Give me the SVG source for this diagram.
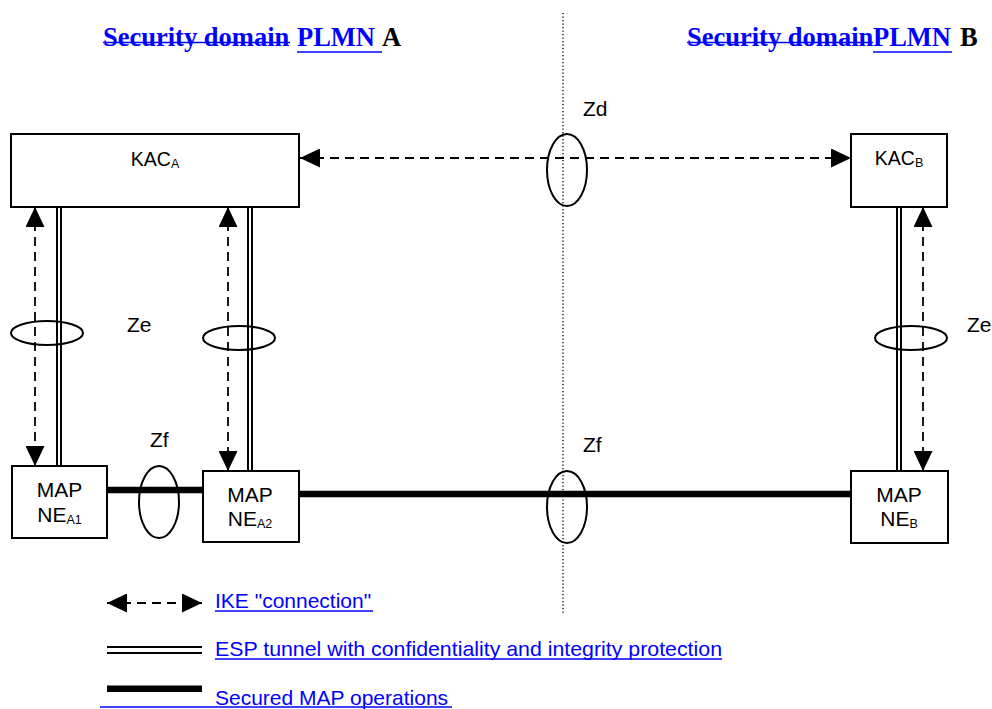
<svg xmlns="http://www.w3.org/2000/svg" width="992" height="709" viewBox="0 0 992 709">
<style>
.box{fill:#fff;stroke:#000;stroke-width:2}
.lbl{font-family:"Liberation Sans",Arial,sans-serif;font-size:21px;fill:#000}
.kac{font-family:"Liberation Sans",Arial,sans-serif;font-size:19.5px;fill:#000}
.sub{font-size:12.5px}
.hdr{font-family:"Liberation Serif","Times New Roman",serif;font-size:26.5px;font-weight:bold}
.blue{fill:#0000ff}
.leg{font-family:"Liberation Sans",Arial,sans-serif;font-size:21px;fill:#0000ff}
.bl{stroke:#0000ff;stroke-width:1.5}
.ike{stroke:#000;stroke-width:1.8;stroke-dasharray:9 6;fill:none}
.esp{stroke:#000;stroke-width:2;fill:none}
.map{stroke:#000;stroke-width:6.5;fill:none}
.ell{fill:none;stroke:#000;stroke-width:2}
.dot{stroke:#000;stroke-width:1.3;stroke-dasharray:1.3 2.2;fill:none}
</style>
<defs>
<marker id="ah" viewBox="0 0 20 19" refX="20" refY="9.5" markerWidth="20" markerHeight="19" markerUnits="userSpaceOnUse" orient="auto-start-reverse">
<path d="M0,0 L20,9.5 L0,19 z" fill="#000"/>
</marker>
</defs>
<rect width="992" height="709" fill="#fff"/>

<!-- headers -->
<g id="header-a">
<text class="hdr blue" x="103" y="45.5">Security domain</text>
<line class="bl" x1="103" y1="42.5" x2="290" y2="42.5"/>
<text class="hdr blue" x="297" y="45.5">PLMN</text>
<line class="bl" x1="297" y1="52" x2="382" y2="52"/>
<text class="hdr" x="382" y="45.5" fill="#000">A</text>
</g>
<g id="header-b">
<text class="hdr blue" x="687" y="45.5">Security domain</text>
<line class="bl" x1="687" y1="42.5" x2="873" y2="42.5"/>
<text class="hdr blue" x="873" y="45.5">PLMN</text>
<line class="bl" x1="873" y1="52" x2="952" y2="52"/>
<text class="hdr" x="960" y="45.5" fill="#000">B</text>
</g>

<!-- domain boundary -->
<line id="boundary" class="dot" x1="563" y1="13" x2="563" y2="615"/>

<!-- connectors -->
<g id="connectors">
<line class="ike" x1="300" y1="158" x2="851" y2="158" marker-start="url(#ah)" marker-end="url(#ah)"/>
<line class="ike" x1="35" y1="207" x2="35" y2="466" marker-start="url(#ah)" marker-end="url(#ah)"/>
<line class="ike" x1="228" y1="207" x2="228" y2="471" marker-start="url(#ah)" marker-end="url(#ah)"/>
<line class="ike" x1="923" y1="207" x2="923" y2="471" marker-start="url(#ah)" marker-end="url(#ah)"/>
<line class="esp" x1="57" y1="207" x2="57" y2="466"/>
<line class="esp" x1="61" y1="207" x2="61" y2="466"/>
<line class="esp" x1="248" y1="207" x2="248" y2="471"/>
<line class="esp" x1="252" y1="207" x2="252" y2="471"/>
<line class="esp" x1="897" y1="207" x2="897" y2="471"/>
<line class="esp" x1="901" y1="207" x2="901" y2="471"/>
<line class="map" x1="107" y1="490" x2="203" y2="490"/>
<line class="map" x1="299" y1="494" x2="851" y2="494"/>
</g>

<!-- nodes -->
<g id="kac-a">
<rect class="box" x="11" y="134" width="288" height="73"/>
<text class="kac" x="155" y="166" text-anchor="middle">KAC<tspan class="sub" dy="2">A</tspan></text>
</g>
<g id="kac-b">
<rect class="box" x="851" y="134" width="96" height="73"/>
<text class="kac" x="899" y="165" text-anchor="middle">KAC<tspan class="sub" dy="2">B</tspan></text>
</g>
<g id="map-ne-a1">
<rect class="box" x="12" y="466" width="95" height="72"/>
<text class="lbl" x="59.5" y="497" text-anchor="middle">MAP</text>
<text class="lbl" x="59.5" y="522" text-anchor="middle">NE<tspan class="sub" dy="1.5">A1</tspan></text>
</g>
<g id="map-ne-a2">
<rect class="box" x="203" y="471" width="96" height="71"/>
<text class="lbl" x="250" y="501.5" text-anchor="middle">MAP</text>
<text class="lbl" x="250" y="526" text-anchor="middle">NE<tspan class="sub" dy="1.5">A2</tspan></text>
</g>
<g id="map-ne-b">
<rect class="box" x="851" y="471" width="97" height="72"/>
<text class="lbl" x="899" y="501.5" text-anchor="middle">MAP</text>
<text class="lbl" x="899" y="526" text-anchor="middle">NE<tspan class="sub" dy="1.5">B</tspan></text>
</g>

<!-- interface markers -->
<g id="iface-zd">
<ellipse class="ell" cx="567" cy="170" rx="20" ry="36"/>
<text class="lbl" x="583" y="116">Zd</text>
</g>
<g id="iface-ze">
<ellipse class="ell" cx="47" cy="333" rx="36" ry="12"/>
<ellipse class="ell" cx="239" cy="338" rx="36" ry="12"/>
<ellipse class="ell" cx="911" cy="338" rx="36" ry="12"/>
<text class="lbl" x="127" y="332">Ze</text>
<text class="lbl" x="967" y="332">Ze</text>
</g>
<g id="iface-zf">
<ellipse class="ell" cx="159" cy="502" rx="20" ry="36"/>
<ellipse class="ell" cx="567" cy="507" rx="20" ry="36"/>
<text class="lbl" x="150" y="447">Zf</text>
<text class="lbl" x="583" y="452">Zf</text>
</g>

<!-- legend -->
<g id="legend">
<line class="ike" x1="107" y1="603" x2="202" y2="603" stroke-dasharray="7 5" marker-start="url(#ah)" marker-end="url(#ah)"/>
<text class="leg" x="215" y="608">IKE "connection"</text>
<line class="bl" x1="215" y1="611" x2="373" y2="611"/>
<line class="esp" x1="107" y1="647" x2="202" y2="647"/>
<line class="esp" x1="107" y1="653" x2="202" y2="653"/>
<text class="leg" x="215" y="656" textLength="507" lengthAdjust="spacingAndGlyphs">ESP tunnel with confidentiality and integrity protection</text>
<line class="bl" x1="215" y1="659" x2="722" y2="659"/>
<line class="map" x1="107" y1="688.7" x2="202" y2="688.7" stroke-width="7.3"/>
<text class="leg" x="215" y="705">Secured MAP operations</text>
<line class="bl" x1="100" y1="707" x2="452" y2="707"/>
</g>
</svg>
